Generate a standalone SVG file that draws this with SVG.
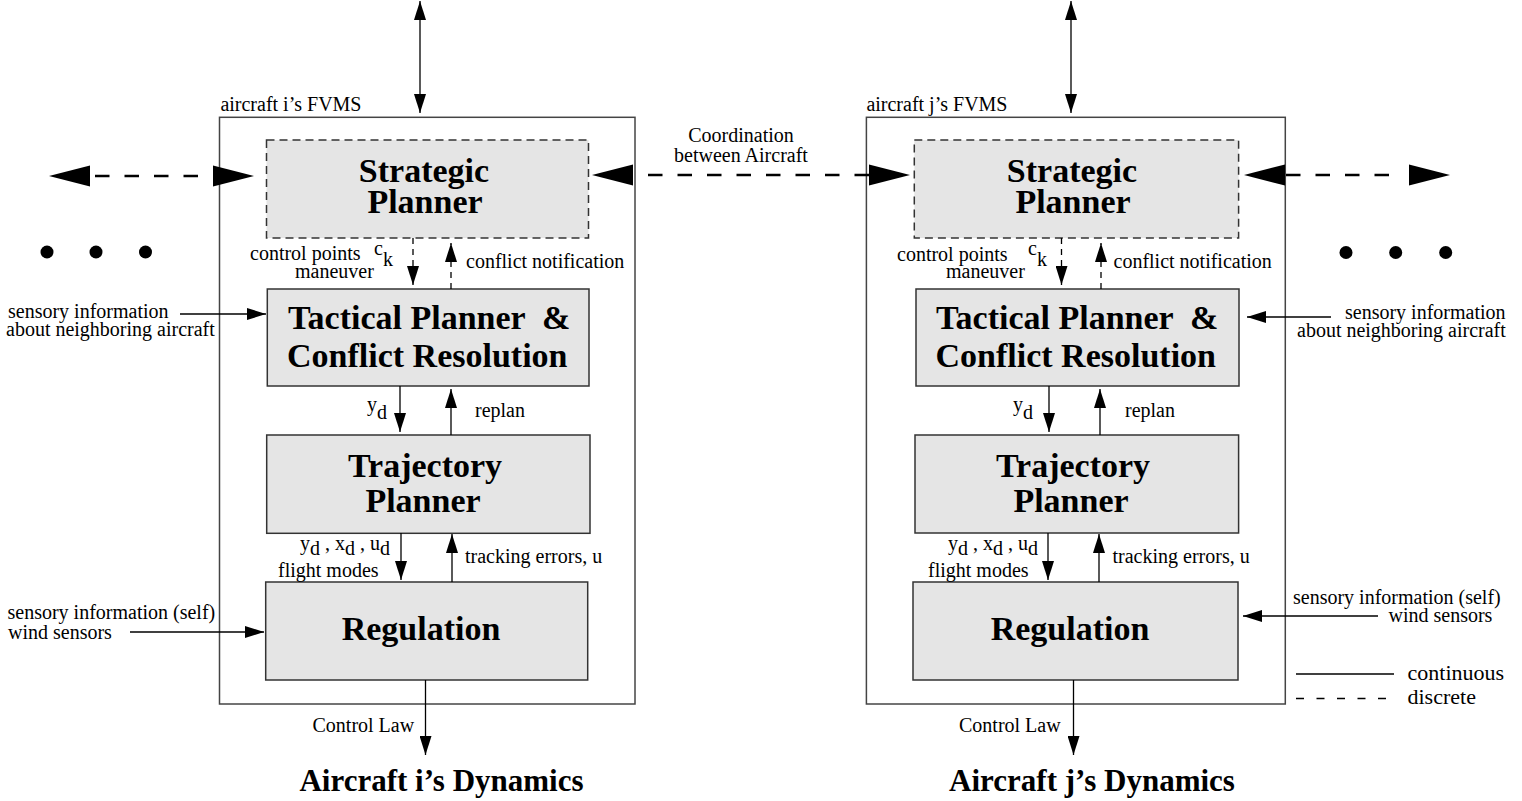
<svg xmlns="http://www.w3.org/2000/svg" xmlns:xlink="http://www.w3.org/1999/xlink" width="1522" height="801" viewBox="0 0 1522 801">
<style>
.t{font-family:"Liberation Serif","Times New Roman",serif;font-size:20px;fill:#000}
.b{font-family:"Liberation Serif","Times New Roman",serif;font-weight:bold;font-size:34px;fill:#000}
.dyn{font-family:"Liberation Serif","Times New Roman",serif;font-weight:bold;font-size:31px;fill:#000}
.lg{font-size:22px}
.m{text-anchor:middle}
.box{fill:#e5e5e5;stroke:#333;stroke-width:1.5}
.dbox{stroke-dasharray:8 5}
.frame{fill:none;stroke:#444;stroke-width:1.5}
.ln{stroke:#000;stroke-width:1.3;fill:none}
.arr{marker-end:url(#a)}
.arr2{marker-start:url(#a);marker-end:url(#a)}
.dl{stroke-dasharray:6 5}
.co{stroke:#000;stroke-width:2.6;fill:none;stroke-dasharray:14.5 15}
.dot{fill:#000}
</style>
<defs>
<marker id="a" markerUnits="userSpaceOnUse" markerWidth="19" markerHeight="12" viewBox="0 0 19 12" refX="19" refY="6" orient="auto-start-reverse"><path d="M0,0 L19,6 L0,12 z" fill="#000"/></marker>
<path id="bh" d="M0,0 L-41,-10.5 L-41,10.5 z" fill="#000"/>
</defs>
<rect width="1522" height="801" fill="#fff"/>

<!-- aircraft i -->
<g id="fvms-i">
<rect class="frame" x="219.5" y="117.3" width="415.5" height="586.7"/>
<text class="t" x="220.4" y="111">aircraft i’s FVMS</text>
</g>
<g id="strategic-i">
<rect class="box dbox" x="266.5" y="140" width="322" height="98"/>
<text class="b m" x="424" y="182">Strategic</text>
<text class="b m" x="425" y="213">Planner</text>
</g>
<g id="tactical-i">
<rect class="box" x="267.3" y="289" width="321.7" height="97"/>
<text class="b" x="288" y="329" xml:space="preserve">Tactical Planner  &amp;</text>
<text class="b" x="287" y="367">Conflict Resolution</text>
</g>
<g id="trajectory-i">
<rect class="box" x="266.7" y="435" width="323.3" height="98.3"/>
<text class="b m" x="425" y="477">Trajectory</text>
<text class="b m" x="423" y="512">Planner</text>
</g>
<g id="regulation-i">
<rect class="box" x="265.7" y="582" width="322" height="98"/>
<text class="b m" x="421" y="640">Regulation</text>
</g>
<g id="dynamics-i">
<text class="dyn m" x="441.5" y="791">Aircraft i’s Dynamics</text>
</g>

<!-- aircraft j -->
<g id="fvms-j">
<rect class="frame" x="866.4" y="117.3" width="418.9" height="586.7"/>
<text class="t" x="866.4" y="111">aircraft j’s FVMS</text>
</g>
<g id="strategic-j">
<rect class="box dbox" x="914.3" y="140" width="324.3" height="98"/>
<text class="b m" x="1072" y="182">Strategic</text>
<text class="b m" x="1073" y="213">Planner</text>
</g>
<g id="tactical-j">
<rect class="box" x="916" y="289" width="323" height="97"/>
<text class="b" x="936" y="329" xml:space="preserve">Tactical Planner  &amp;</text>
<text class="b" x="935.5" y="367">Conflict Resolution</text>
</g>
<g id="trajectory-j">
<rect class="box" x="915" y="435" width="323.6" height="98"/>
<text class="b m" x="1073" y="477">Trajectory</text>
<text class="b m" x="1071" y="512">Planner</text>
</g>
<g id="regulation-j">
<rect class="box" x="913" y="582" width="325" height="98"/>
<text class="b m" x="1070" y="640">Regulation</text>
</g>
<g id="dynamics-j">
<text class="dyn m" x="1092" y="791">Aircraft j’s Dynamics</text>
</g>

<!-- ellipsis dots -->
<g id="dots-left">
<circle class="dot" cx="47" cy="252" r="6.5"/>
<circle class="dot" cx="96" cy="252" r="6.5"/>
<circle class="dot" cx="145.5" cy="252" r="6.5"/>
</g>
<g id="dots-right">
<circle class="dot" cx="1346" cy="252.5" r="6.5"/>
<circle class="dot" cx="1395.7" cy="252.5" r="6.5"/>
<circle class="dot" cx="1445.7" cy="252.5" r="6.5"/>
</g>

<!-- legend -->
<g id="legend">
<line class="ln" x1="1296" y1="674" x2="1394" y2="674"/>
<text class="t lg" x="1407.5" y="680">continuous</text>
<line class="ln" x1="1296" y1="698.5" x2="1386" y2="698.5" stroke-dasharray="8 12.5"/>
<text class="t lg" x="1407.5" y="704">discrete</text>
</g>

<g id="connectors">
<!-- coordination dashed arrows -->
<line class="co" x1="95" y1="176" x2="198" y2="176"/>
<use xlink:href="#bh" transform="translate(49,176) rotate(180)"/>
<use xlink:href="#bh" transform="translate(254,176)"/>
<line class="co" x1="648" y1="175" x2="869" y2="175"/>
<use xlink:href="#bh" transform="translate(592,175) rotate(180)"/>
<use xlink:href="#bh" transform="translate(910,175)"/>
<line class="co" x1="1286" y1="175" x2="1395" y2="175" stroke-dasharray="15 16"/>
<use xlink:href="#bh" transform="translate(1244,175) rotate(180)"/>
<use xlink:href="#bh" transform="translate(1450,175)"/>

<!-- left side connectors -->
<line class="ln arr2" x1="420" y1="1" x2="420" y2="113"/>
<line class="ln arr dl" x1="413" y1="238" x2="413" y2="285"/>
<line class="ln arr dl" x1="451" y1="289" x2="451" y2="243"/>
<line class="ln arr" x1="400" y1="386" x2="400" y2="432"/>
<line class="ln arr" x1="451" y1="435" x2="451" y2="389"/>
<line class="ln arr" x1="401" y1="533" x2="401" y2="580"/>
<line class="ln arr" x1="452" y1="582" x2="452" y2="534"/>
<line class="ln arr" x1="180" y1="314" x2="266" y2="314"/>
<line class="ln arr" x1="130" y1="632" x2="264" y2="632"/>
<line class="ln arr" x1="425.5" y1="680" x2="425.5" y2="755"/>

<!-- right side connectors -->
<line class="ln arr2" x1="1071" y1="1" x2="1071" y2="113"/>
<line class="ln arr dl" x1="1061.5" y1="238" x2="1061.5" y2="285"/>
<line class="ln arr dl" x1="1101" y1="289" x2="1101" y2="243"/>
<line class="ln arr" x1="1049" y1="386" x2="1049" y2="432"/>
<line class="ln arr" x1="1100" y1="435" x2="1100" y2="389"/>
<line class="ln arr" x1="1048" y1="533" x2="1048" y2="580"/>
<line class="ln arr" x1="1099" y1="582" x2="1099" y2="534"/>
<line class="ln arr" x1="1331" y1="317" x2="1247" y2="317"/>
<line class="ln arr" x1="1378" y1="616" x2="1243" y2="616"/>
<line class="ln arr" x1="1073.5" y1="680" x2="1073.5" y2="755"/>
</g>

<!-- connector labels -->
<g id="labels-i">
<text class="t m" x="741" y="141.5">Coordination</text>
<text class="t m" x="741" y="161.5">between Aircraft</text>
<text class="t" x="250" y="260">control points</text>
<text class="t" x="295" y="277.5">maneuver</text>
<text class="t" x="374" y="255">c<tspan dy="11">k</tspan></text>
<text class="t" x="466" y="268">conflict notification</text>
<text class="t" x="8" y="318">sensory information</text>
<text class="t" x="6" y="336">about neighboring aircraft</text>
<text class="t" x="367" y="411">y<tspan dy="8">d</tspan></text>
<text class="t" x="475" y="416.5">replan</text>
<text class="t" x="300" y="550" xml:space="preserve">y<tspan dy="5">d</tspan><tspan dy="-5"> , x</tspan><tspan dy="5">d</tspan><tspan dy="-5"> , u</tspan><tspan dy="5">d</tspan></text>
<text class="t" x="278" y="576.5">flight modes</text>
<text class="t" x="465" y="563">tracking errors, u</text>
<text class="t" x="7.5" y="618.5">sensory information (self)</text>
<text class="t" x="8" y="639">wind sensors</text>
<text class="t" x="312.5" y="731.5">Control Law</text>
</g>
<g id="labels-j">
<text class="t" x="897" y="260.5">control points</text>
<text class="t" x="946" y="277.5">maneuver</text>
<text class="t" x="1028" y="255">c<tspan dy="11">k</tspan></text>
<text class="t" x="1113.5" y="268">conflict notification</text>
<text class="t" x="1345" y="319">sensory information</text>
<text class="t" x="1297" y="337">about neighboring aircraft</text>
<text class="t" x="1013" y="411">y<tspan dy="8">d</tspan></text>
<text class="t" x="1125" y="416.5">replan</text>
<text class="t" x="948" y="550" xml:space="preserve">y<tspan dy="5">d</tspan><tspan dy="-5"> , x</tspan><tspan dy="5">d</tspan><tspan dy="-5"> , u</tspan><tspan dy="5">d</tspan></text>
<text class="t" x="928" y="576.5">flight modes</text>
<text class="t" x="1112.5" y="563">tracking errors, u</text>
<text class="t" x="1293" y="603.5">sensory information (self)</text>
<text class="t" x="1388.5" y="622">wind sensors</text>
<text class="t" x="959" y="731.5">Control Law</text>
</g>
</svg>
